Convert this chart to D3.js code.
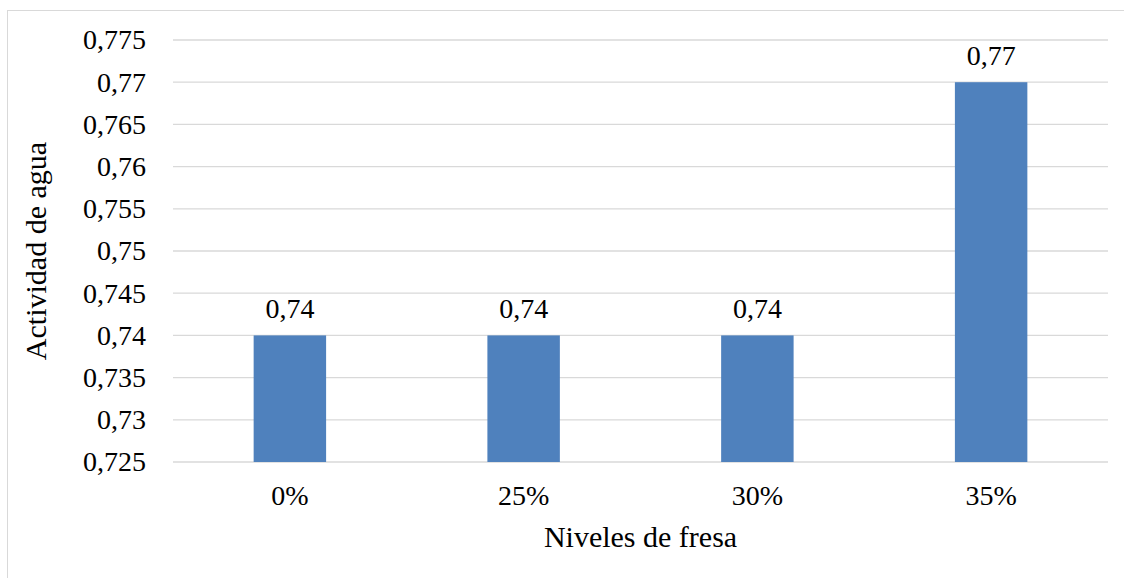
<!DOCTYPE html>
<html>
<head>
<meta charset="utf-8">
<script src="https://cdn.jsdelivr.net/npm/d3@7"></script>
<style>
  body { margin: 0; background: #fff; }
</style>
</head>
<body>
<div id="chart"></div>
<script>
    // chart data
    var categories = ["0%", "25%", "30%", "35%"];
    var values = [0.74, 0.74, 0.74, 0.77];
    var valueLabels = ["0,74", "0,74", "0,74", "0,77"];
    var yTicks = [0.725, 0.73, 0.735, 0.74, 0.745, 0.75, 0.755, 0.76, 0.765, 0.77, 0.775];

    var fontFam = "'Liberation Serif', 'Times New Roman', Times, serif";
    var fontSize = "28px";
    var titleSize = "30px";

    var svgWidth = 1124;
    var svgHeight = 578;

    var margin = { top: 40, right: 16, bottom: 116, left: 173 };
    var width = svgWidth - margin.left - margin.right;
    var height = svgHeight - margin.top - margin.bottom;

    var svg = d3.select("#chart")
        .append("svg")
        .attr("width", svgWidth)
        .attr("height", svgHeight)
        .style("font-family", fontFam);

    // outer frame
    svg.append("rect")
        .attr("x", 7.5)
        .attr("y", 10.5)
        .attr("width", 1130)
        .attr("height", 600)
        .attr("fill", "none")
        .attr("stroke", "#d9d9d9");

    var chartGroup = svg.append("g")
        .attr("transform", `translate(${margin.left}, ${margin.top})`);

    var xScale = d3.scaleBand()
        .domain(categories)
        .range([0, width])
        .paddingInner(0.69)
        .paddingOuter(0.345);

    var yScale = d3.scaleLinear()
        .domain([0.725, 0.775])
        .range([height, 0]);

    // gridlines
    chartGroup.selectAll(".grid")
        .data(yTicks)
        .enter()
        .append("line")
        .attr("x1", 0)
        .attr("x2", width)
        .attr("y1", d => yScale(d))
        .attr("y2", d => yScale(d))
        .attr("stroke", "#d9d9d9")
        .attr("stroke-width", 1.3);

    // y axis labels
    var leftAxis = d3.axisLeft(yScale)
        .tickValues(yTicks)
        .tickSize(0)
        .tickPadding(27)
        .tickFormat(d => d3.format(".3~f")(d).replace(".", ","));

    chartGroup.append("g")
        .call(leftAxis)
        .attr("font-family", null)
        .call(g => g.select(".domain").remove())
        .selectAll("text")
        .style("font-family", fontFam)
        .style("font-size", fontSize)
        .attr("fill", "#000");

    // bars
    chartGroup.selectAll(".bar")
        .data(values)
        .enter()
        .append("rect")
        .attr("x", (d, i) => xScale(categories[i]))
        .attr("y", d => yScale(d))
        .attr("width", xScale.bandwidth())
        .attr("height", d => height - yScale(d))
        .attr("fill", "#4f81bd");

    // value labels
    chartGroup.selectAll(".vlabel")
        .data(values)
        .enter()
        .append("text")
        .attr("x", (d, i) => xScale(categories[i]) + xScale.bandwidth() / 2)
        .attr("y", d => yScale(d) - 17)
        .attr("text-anchor", "middle")
        .style("font-family", fontFam)
        .style("font-size", fontSize)
        .text((d, i) => valueLabels[i]);

    // x axis labels
    var bottomAxis = d3.axisBottom(xScale)
        .tickSize(0)
        .tickPadding(23);

    chartGroup.append("g")
        .attr("transform", `translate(0, ${height})`)
        .call(bottomAxis)
        .attr("font-family", null)
        .call(g => g.select(".domain").remove())
        .selectAll("text")
        .style("font-family", fontFam)
        .style("font-size", fontSize)
        .attr("fill", "#000");

    // axis titles
    svg.append("text")
        .attr("x", margin.left + width / 2)
        .attr("y", 547)
        .attr("text-anchor", "middle")
        .style("font-family", fontFam)
        .style("font-size", titleSize)
        .text("Niveles de fresa");

    svg.append("text")
        .attr("transform", `translate(46, ${margin.top + height / 2}) rotate(-90)`)
        .attr("text-anchor", "middle")
        .style("font-family", fontFam)
        .style("font-size", titleSize)
        .text("Actividad de agua");
</script>
</body>
</html>
